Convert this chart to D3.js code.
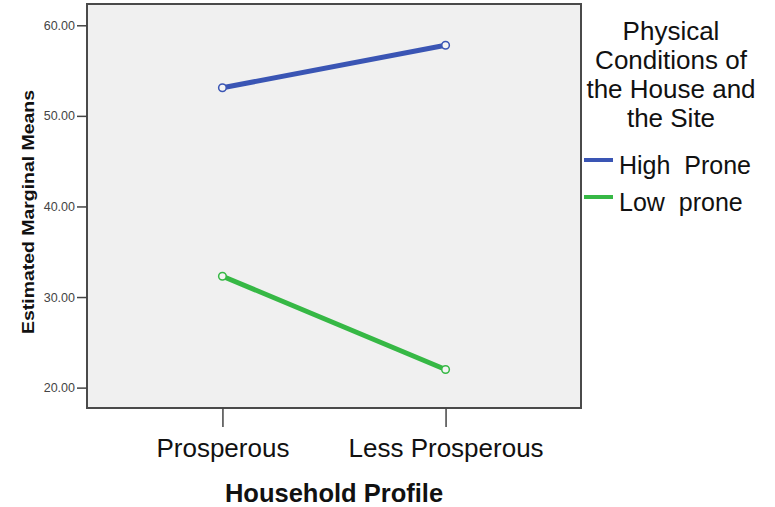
<!DOCTYPE html>
<html>
<head>
<meta charset="utf-8">
<script src="https://cdn.jsdelivr.net/npm/d3@7"></script>
<style>
  html, body { margin: 0; padding: 0; background: #ffffff; }
  svg { display: block; font-family: Arial, "Liberation Sans", sans-serif; }
</style>
</head>
<body>
<svg id="chart" width="775" height="507"></svg>
<script>
// ---- data ----
const categories = ["Prosperous", "Less Prosperous"];
const seriesNames = ["High  Prone", "Low  prone"];
const highProne = [53.1, 57.8];
const lowProne = [32.3, 22.0];
const yTicks = [20, 30, 40, 50, 60];
const yTickLabels = ["20.00", "30.00", "40.00", "50.00", "60.00"];
const legendTitle = ["Physical", "Conditions of", "the House and", "the Site"];
const xTitle = "Household Profile";
const yTitle = "Estimated Marginal Means";
const colors = ["#3a55b4", "#36b845"];

const series = [
  { name: seriesNames[0], values: highProne, color: colors[0] },
  { name: seriesNames[1], values: lowProne, color: colors[1] }
];

const svg = d3.select("#chart");
const plot = { left: 87, right: 581, top: 4, bottom: 408 };

const x = d3.scalePoint().domain(categories).range([plot.left, plot.right]).padding(0.607);
const y = d3.scaleLinear().domain([17.75, 62.35]).range([plot.bottom, plot.top]);

// plot background
svg.append("rect")
  .attr("x", plot.left).attr("y", plot.top)
  .attr("width", plot.right - plot.left).attr("height", plot.bottom - plot.top)
  .attr("fill", "#f0f0f0").attr("stroke", "#4a4a4a").attr("stroke-width", 2);

// y axis
const yAxis = svg.append("g")
  .attr("transform", `translate(${plot.left},0)`)
  .call(d3.axisLeft(y).tickValues(yTicks).tickFormat((d, i) => yTickLabels[i]).tickSize(10).tickPadding(2));
yAxis.select(".domain").remove();
yAxis.selectAll(".tick line").attr("stroke", "#444").attr("stroke-width", 1.5);
yAxis.selectAll(".tick text")
  .attr("font-family", "Arial, 'Liberation Sans', sans-serif")
  .attr("font-size", 12.5).attr("fill", "#444");

// x axis
const xAxis = svg.append("g")
  .attr("transform", `translate(0,${plot.bottom})`)
  .call(d3.axisBottom(x).tickSize(19).tickPadding(12));
xAxis.select(".domain").remove();
xAxis.selectAll(".tick line").attr("stroke", "#444").attr("stroke-width", 1.5);
xAxis.selectAll(".tick text")
  .attr("font-family", "Arial, 'Liberation Sans', sans-serif")
  .attr("font-size", 26).attr("fill", "#111");

// axis titles
svg.append("text")
  .attr("x", (plot.left + plot.right) / 2).attr("y", 502)
  .attr("text-anchor", "middle")
  .attr("font-size", 25.5).attr("font-weight", "bold").attr("fill", "#111")
  .text(xTitle);

svg.append("text")
  .attr("transform", "translate(34,212) rotate(-90)")
  .attr("text-anchor", "middle")
  .attr("font-size", 16).attr("font-weight", "bold").attr("fill", "#111")
  .attr("textLength", 244).attr("lengthAdjust", "spacingAndGlyphs")
  .text(yTitle);

// lines
const line = d3.line().x((d, i) => x(categories[i])).y(d => y(d));
series.forEach(s => {
  svg.append("path")
    .datum(s.values)
    .attr("d", line)
    .attr("fill", "none")
    .attr("stroke", s.color)
    .attr("stroke-width", 5)
    .attr("stroke-linecap", "round");
  svg.selectAll(null)
    .data(s.values)
    .enter().append("circle")
    .attr("cx", (d, i) => x(categories[i]))
    .attr("cy", d => y(d))
    .attr("r", 3.8)
    .attr("fill", "#f4f4f4")
    .attr("stroke", s.color)
    .attr("stroke-width", 1.5);
});

// legend
const legend = svg.append("g");
legendTitle.forEach((t, i) => {
  legend.append("text")
    .attr("x", 671).attr("y", 40 + i * 29)
    .attr("text-anchor", "middle")
    .attr("font-size", 26).attr("fill", "#111")
    .text(t);
});
series.forEach((s, i) => {
  const ly = 160 + i * 37;
  legend.append("line")
    .attr("x1", 584).attr("x2", 613)
    .attr("y1", ly).attr("y2", ly)
    .attr("stroke", s.color).attr("stroke-width", 4);
  legend.append("text")
    .attr("x", 619).attr("y", ly + 14)
    .attr("font-size", 25).attr("fill", "#111")
    .attr("xml:space", "preserve")
    .style("white-space", "pre")
    .text(s.name);
});
</script>
</body>
</html>
